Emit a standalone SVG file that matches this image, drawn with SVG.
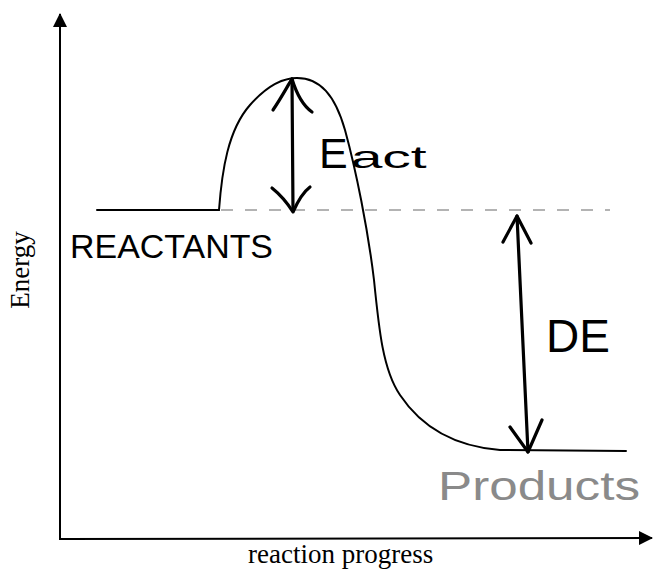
<svg xmlns="http://www.w3.org/2000/svg" width="654" height="571" viewBox="0 0 654 571">
  <defs>
    <style>
      .axis { stroke: #000; stroke-width: 2; fill: none; }
      .curve { stroke: #000; stroke-width: 2; fill: none; stroke-linecap: round; }
      .hand { stroke: #000; stroke-width: 3.2; fill: none; stroke-linecap: round; stroke-linejoin: round; }
      .dash { stroke: #9a9a9a; stroke-width: 1.6; fill: none; }
      .serif { font-family: "Liberation Serif", "Times New Roman", serif; font-size: 27px; fill: #000; }
      .script { font-family: "Liberation Sans", Arial, sans-serif; fill: #000; }
      .faint { fill: #8a8a8a; }
    </style>
    <marker id="axisHead" markerWidth="14" markerHeight="14" refX="13" refY="7" orient="auto" markerUnits="userSpaceOnUse">
      <path d="M0,0 L14,7 L0,14 Z" fill="#000"/>
    </marker>
  </defs>
  <rect width="654" height="571" fill="#fff"/>

  <g id="axes">
    <path class="axis" d="M60,540 L60,14" marker-end="url(#axisHead)"/>
    <path class="axis" d="M60,539 L652,538" marker-end="url(#axisHead)"/>
    <text class="serif" transform="translate(29,270) rotate(-90)" text-anchor="middle">Energy</text>
    <text class="serif" x="248" y="563">reaction progress</text>
  </g>

  <g id="energy-curve">
    <path class="curve" d="M97,210 L219,210 C222,170 228,130 250,105 C265,88 280,78 297,78 C320,78 335,95 345,130 C356,170 368,230 374,280 C379,330 383,370 400,395 C420,425 450,446 500,450 L626,451"/>
    <path class="dash" stroke-dasharray="12,12" d="M221,210 L610,210"/>
  </g>

  <g id="connectors">
    <g id="ea-arrow">
      <path class="hand" d="M292,79 L293,211"/>
      <path class="hand" d="M273,110 C283,95 288,85 292,79 C296,92 302,105 312,112"/>
      <path class="hand" d="M272,188 C282,196 288,204 293,212 C297,203 302,193 310,187"/>
    </g>
    <g id="de-arrow">
      <path class="hand" d="M517,216 L528,452"/>
      <path class="hand" d="M503,242 L517,216 L531,243"/>
      <path class="hand" d="M510,427 L528,452 L542,420"/>
    </g>
  </g>

  <g id="labels">
    <text id="eact" class="script" x="319" y="168" font-size="43">E<tspan font-size="32" dx="3" textLength="76" lengthAdjust="spacingAndGlyphs">act</tspan></text>
    <text id="de" class="script" x="546" y="352" font-size="46">DE</text>
    <text id="reactants" class="script" x="70" y="258" font-size="34" textLength="203" lengthAdjust="spacingAndGlyphs">REACTANTS</text>
    <text id="products" class="script faint" x="438" y="500" font-size="40" textLength="202" lengthAdjust="spacingAndGlyphs">Products</text>
  </g>
</svg>
